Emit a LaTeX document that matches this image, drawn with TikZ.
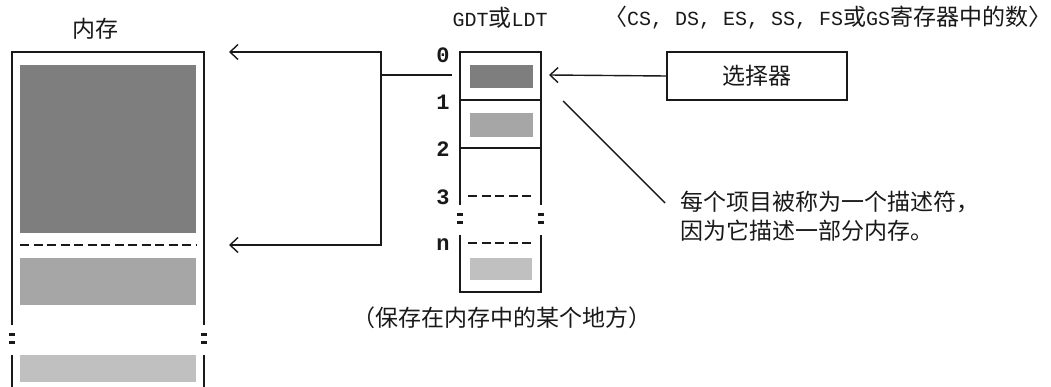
\documentclass[tikz,border=0pt]{standalone}
\usepackage{fontspec}
\setmainfont{Noto Sans CJK SC}
\newfontfamily\lmono{Liberation Mono}
\usetikzlibrary{arrows.meta}
\definecolor{gdark}{RGB}{126,126,126}
\definecolor{gmid}{RGB}{166,166,166}
\definecolor{glight}{RGB}{192,192,192}
\definecolor{ink}{RGB}{25,25,25}
\newcommand{\lat}[1]{{\lmono\fontsize{20}{24}\selectfont #1}}
\begin{document}
\begin{tikzpicture}[x=1pt,y=-1pt,
  conn/.style={line width=1.4pt, draw=ink},
  barb/.tip={Straight Barb[length=8pt,width=15pt,line width=1.4pt]},
  wall/.style={line width=2pt, draw=ink},
  rowline/.style={line width=1.4pt, draw=ink},
  dashline/.style={line width=1.4pt, draw=ink, dash pattern=on 9pt off 4.5pt},
  brk/.style={line width=2.2pt, draw=ink},
  cjk/.style={font=\fontsize{23}{29}\selectfont, inner sep=0pt, text=ink},
  num/.style={font=\fontsize{22}{24}\selectfont\lmono\bfseries, inner sep=0pt, text=ink},
  selbox/.style={draw=ink, line width=1.6pt, minimum width=180pt, minimum height=48pt, inner sep=0pt, font=\fontsize{23}{27}\selectfont, text=ink}
]
\useasboundingbox (0,0) rectangle (1051,387);

% ---------- memory (内存) ----------
\node[cjk] (memtitle) at (95,29) {内存};
\fill[gdark] (20,65) rectangle (196,233);
\draw[dashline] (20,245) -- (196,245);
\fill[gmid] (20,258) rectangle (196,305);
\fill[glight] (20,355) rectangle (196,382);
\draw[wall] (12,325) -- (12,52) -- (204,52) -- (204,325);
\draw[wall] (12,355) -- (12,387);
\draw[wall] (204,355) -- (204,387);
\foreach \x in {12,204}{
  \draw[brk] (\x-3,334.5) -- (\x+3,334.5);
  \draw[brk] (\x-3,342.5) -- (\x+3,342.5);
}
\coordinate (memtop) at (229,52);
\coordinate (memmid) at (229,245);

% ---------- GDT / LDT table ----------
\node[cjk] (gdttitle) at (500,18) {\lat{GDT}或\lat{LDT}};
\fill[gdark] (470,65) rectangle (533,88);
\fill[gmid] (470,113) rectangle (533,137);
\fill[glight] (470,258) rectangle (532,280);
\draw[wall] (460,205) -- (460,52) -- (541,52) -- (541,205);
\draw[wall] (460,235) -- (460,292) -- (541,292) -- (541,235);
\foreach \x in {460,541}{
  \draw[brk] (\x-3,214.5) -- (\x+3,214.5);
  \draw[brk] (\x-3,222.5) -- (\x+3,222.5);
}
\draw[rowline] (460,100) -- (541,100);
\draw[rowline] (460,148) -- (541,148);
\draw[dashline] (468,196) -- (531,196);
\draw[dashline] (468,243) -- (531,243);
\node[num] (n0) at (443,55) {0};
\node[num] (n1) at (443,102) {1};
\node[num] (n2) at (443,149) {2};
\node[num] (n3) at (443,197) {3};
\node[num] (nn) at (443,245) {n};
\node[cjk] (where) at (502,318) {（保存在内存中的某个地方）};
\coordinate (gdtlink) at (452,75);
\coordinate (tabin) at (549,75);
\coordinate (diagS) at (563,101);

% ---------- links to memory ----------
\coordinate (jtop) at (381,52);
\coordinate (jmid) at (381,75);
\coordinate (jbot) at (381,245);
\draw[conn, barb-barb] (memtop) -- (jtop) -- (jbot) -- (memmid);
\draw[conn] (jmid) -- (gdtlink);

% ---------- selector ----------
\node[cjk, anchor=west] (regs) at (604,18) {〈\lat{CS, DS, ES, SS, FS}或\lat{GS}寄存器中的数〉};
\node[selbox] (sel) at (757,76) {选择器};
\draw[conn, barb-] (tabin) -- (sel.west);

% ---------- note ----------
\node[cjk, anchor=west, align=left] (note) at (680,216) {每个项目被称为一个描述符，\\因为它描述一部分内存。};
\coordinate (diagE) at (665,203);
\draw[conn] (diagS) -- (diagE);
\end{tikzpicture}
\end{document}
